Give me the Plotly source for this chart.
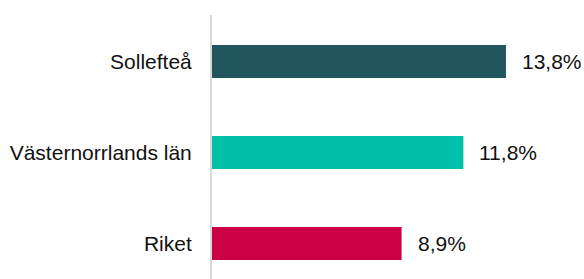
import plotly.graph_objects as go

categories = ["Sollefteå", "Västernorrlands län", "Riket"]
values = [13.8, 11.8, 8.9]
colors = ["#21565F", "#00C0A9", "#CC0044"]
labels = [f"{v:.1f}%".replace(".", ",") for v in values]

FONT = "Liberation Sans, Arial, sans-serif"

fig = go.Figure()
fig.add_trace(go.Bar(
    y=categories, x=values, orientation="h",
    marker=dict(color=colors, line=dict(width=0)),
    hoverinfo="skip",
))
for c, v, t in zip(categories, values, labels):
    fig.add_annotation(x=v, y=c, text=t, showarrow=False, xanchor="left",
                       xshift=14, yshift=0,
                       font=dict(family=FONT, size=21, color="#111111"))

fig.update_layout(
    width=584, height=279,
    margin=dict(l=212, r=12, t=15, b=0),
    paper_bgcolor="white", plot_bgcolor="white",
    bargap=0.637,
    showlegend=False,
    font=dict(family=FONT, size=21, color="#111111"),
)
fig.update_xaxes(range=[0, 16.9], showgrid=False, zeroline=False, showticklabels=False,
                 showline=False, fixedrange=True)
fig.update_yaxes(type="category", range=[2.390, -0.511], showgrid=False, zeroline=False,
                 showline=True, linecolor="#d9d9d9", linewidth=2,
                 ticks="", ticklabelstandoff=14, fixedrange=True)

fig.write_html("out.html", config={"displayModeBar": False},
               post_script="document.body.style.margin='0';document.body.style.overflow='hidden';")
